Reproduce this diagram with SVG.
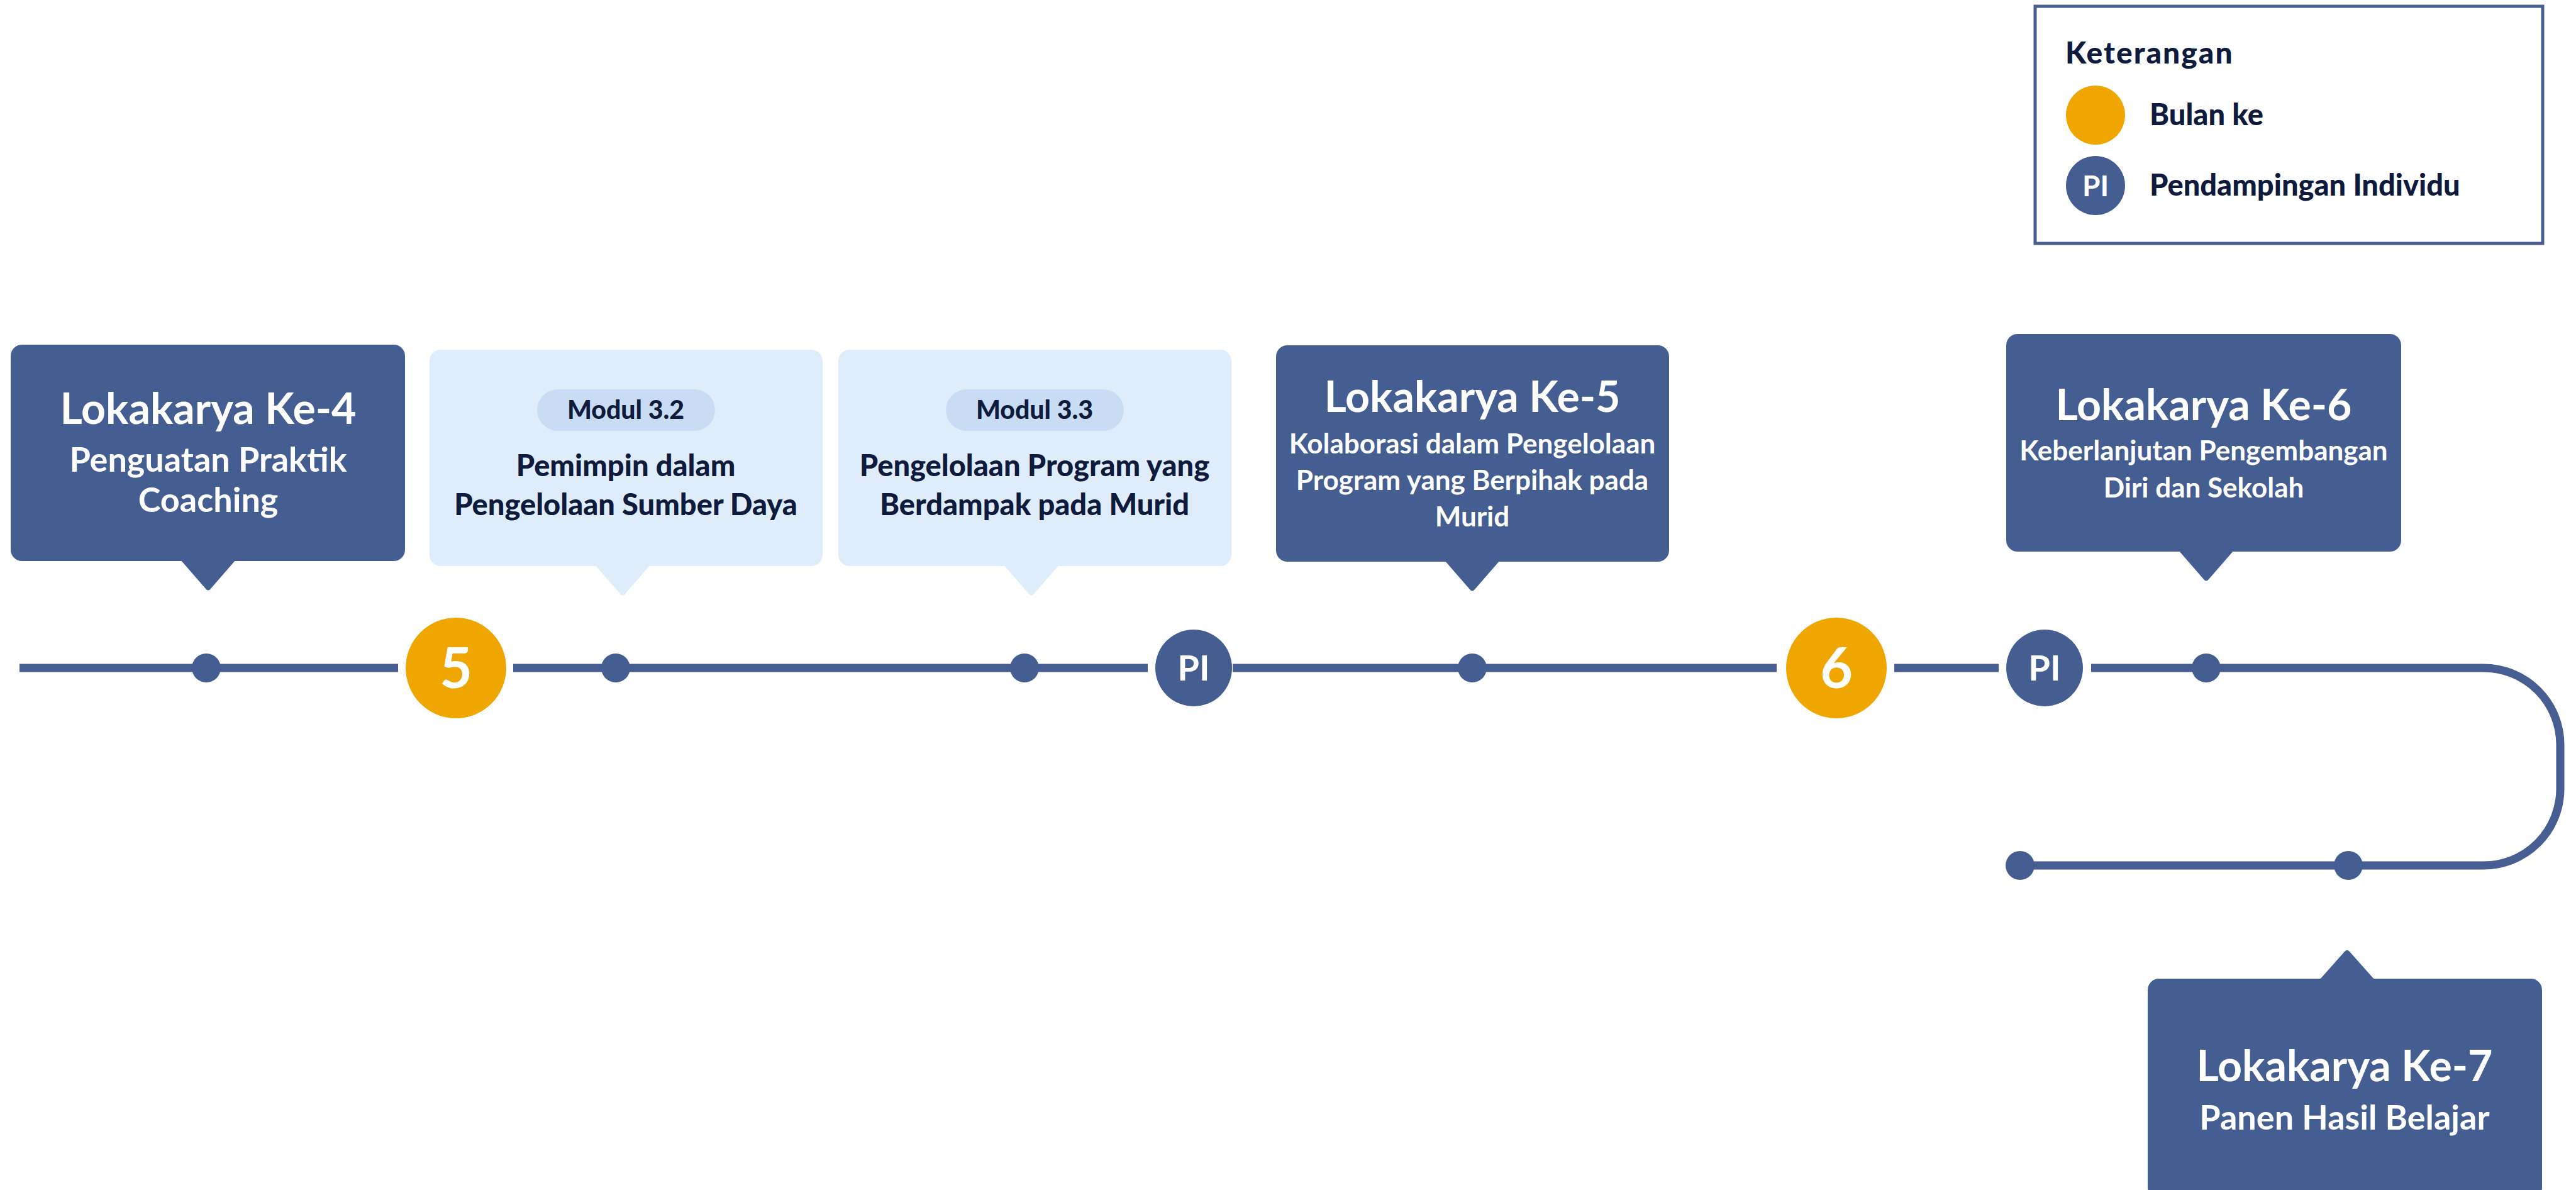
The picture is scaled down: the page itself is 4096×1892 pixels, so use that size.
<svg xmlns="http://www.w3.org/2000/svg" width="4096" height="1892" viewBox="0 0 4096 1892">
<style>
.bg{fill:#ffffff}
.dark{fill:#455E91}
.light{fill:#DFECFA}
.pill{fill:#C8DDF4}
.orange{fill:#EFA600}
.t{font-family:Lato,'Liberation Sans',sans-serif;font-weight:700;text-anchor:middle}
.w{fill:#ffffff}
.k{fill:#0F1B3D}
.title{font-size:68px}
.sub4{font-size:54px}
.sub{font-size:44px}
.mod{font-size:47px;font-weight:900}
.pilltxt{font-size:41px;font-weight:900}
.num{font-size:90px}
.pi{font-size:56px}
.line{fill:none;stroke:#465E91;stroke-width:13}
.leg{font-size:47px;font-weight:900;text-anchor:start}
</style>
<rect class="bg" x="0" y="0" width="4096" height="1892"/>

<g id="connectors">
<path class="line" d="M31 1062 H633"/>
<path class="line" d="M816 1062 H1825"/>
<path class="line" d="M1960 1062 H2825"/>
<path class="line" d="M3012 1062 H3178"/>
<path class="line" d="M3325 1062 H3949 A122 122 0 0 1 4071 1184 V1254 A122 122 0 0 1 3949 1376 H3212"/>
</g>

<g id="dots">
<circle class="dark" cx="328" cy="1062" r="23"/>
<circle class="dark" cx="979" cy="1062" r="23"/>
<circle class="dark" cx="1629" cy="1062" r="23"/>
<circle class="dark" cx="2341" cy="1062" r="23"/>
<circle class="dark" cx="3508" cy="1062" r="23"/>
<circle class="dark" cx="3212" cy="1376" r="23"/>
<circle class="dark" cx="3734" cy="1376" r="23"/>
</g>

<g id="month5">
<circle class="orange" cx="725" cy="1062" r="80"/>
<text class="t w num" x="725" y="1094">5</text>
</g>
<g id="pi1">
<circle class="dark" cx="1898" cy="1062" r="61"/>
<text class="t w pi" x="1898" y="1082">PI</text>
</g>
<g id="month6">
<circle class="orange" cx="2920" cy="1062" r="80"/>
<text class="t w num" x="2920" y="1094">6</text>
</g>
<g id="pi2">
<circle class="dark" cx="3251" cy="1062" r="61"/>
<text class="t w pi" x="3251" y="1082">PI</text>
</g>

<g id="lokakarya4">
<rect class="dark" x="17" y="548" width="627" height="344" rx="18"/>
<path class="dark" d="M287 890 L327 936 Q331 941 335 936 L375 890 Z"/>
<text class="t w title" x="331" y="674">Lokakarya Ke-4</text>
<text class="t w sub4" x="331" y="750">Penguatan Praktik</text>
<text class="t w sub4" x="331" y="814">Coaching</text>
</g>

<g id="modul32">
<rect class="light" x="683" y="556" width="625" height="344" rx="18"/>
<path class="light" d="M946 898 L986 944 Q990 949 994 944 L1034 898 Z"/>
<rect class="pill" x="854" y="619" width="283" height="66" rx="33"/>
<text class="t k pilltxt" x="995" y="666">Modul 3.2</text>
<text class="t k mod" x="995" y="757">Pemimpin dalam</text>
<text class="t k mod" x="995" y="819">Pengelolaan Sumber Daya</text>
</g>

<g id="modul33">
<rect class="light" x="1333" y="556" width="625" height="344" rx="18"/>
<path class="light" d="M1596 898 L1636 944 Q1640 949 1644 944 L1684 898 Z"/>
<rect class="pill" x="1504" y="619" width="283" height="66" rx="33"/>
<text class="t k pilltxt" x="1645" y="666">Modul 3.3</text>
<text class="t k mod" x="1645" y="757">Pengelolaan Program yang</text>
<text class="t k mod" x="1645" y="819">Berdampak pada Murid</text>
</g>

<g id="lokakarya5">
<rect class="dark" x="2029" y="549" width="625" height="344" rx="18"/>
<path class="dark" d="M2297 891 L2337 937 Q2341 942 2345 937 L2385 891 Z"/>
<text class="t w title" x="2341" y="655">Lokakarya Ke-5</text>
<text class="t w sub" x="2341" y="721">Kolaborasi dalam Pengelolaan</text>
<text class="t w sub" x="2341" y="779">Program yang Berpihak pada</text>
<text class="t w sub" x="2341" y="837">Murid</text>
</g>

<g id="lokakarya6">
<rect class="dark" x="3190" y="531" width="628" height="346" rx="18"/>
<path class="dark" d="M3464 875 L3504 921 Q3508 926 3512 921 L3552 875 Z"/>
<text class="t w title" x="3504" y="668">Lokakarya Ke-6</text>
<text class="t w sub" x="3504" y="732">Keberlanjutan Pengembangan</text>
<text class="t w sub" x="3504" y="791">Diri dan Sekolah</text>
</g>

<g id="lokakarya7">
<rect class="dark" x="3415" y="1556" width="627" height="350" rx="18"/>
<path class="dark" d="M3688 1558 L3728 1513 Q3732 1508 3736 1513 L3776 1558 Z"/>
<text class="t w title" x="3728" y="1719">Lokakarya Ke-7</text>
<text class="t w sub4" x="3728" y="1796">Panen Hasil Belajar</text>
</g>

<g id="legend">
<rect x="3236" y="10" width="807" height="377" fill="#ffffff" stroke="#4A5F8F" stroke-width="5"/>
<text class="t k" x="3284" y="101" style="font-size:48px;font-weight:900;text-anchor:start;letter-spacing:2px">Keterangan</text>
<circle class="orange" cx="3332" cy="183" r="47"/>
<text class="t k leg" x="3418" y="199">Bulan ke</text>
<circle class="dark" cx="3332" cy="295" r="47"/>
<text class="t w" x="3332" y="312" style="font-size:46px">PI</text>
<text class="t k leg" x="3418" y="311">Pendampingan Individu</text>
</g>
</svg>
